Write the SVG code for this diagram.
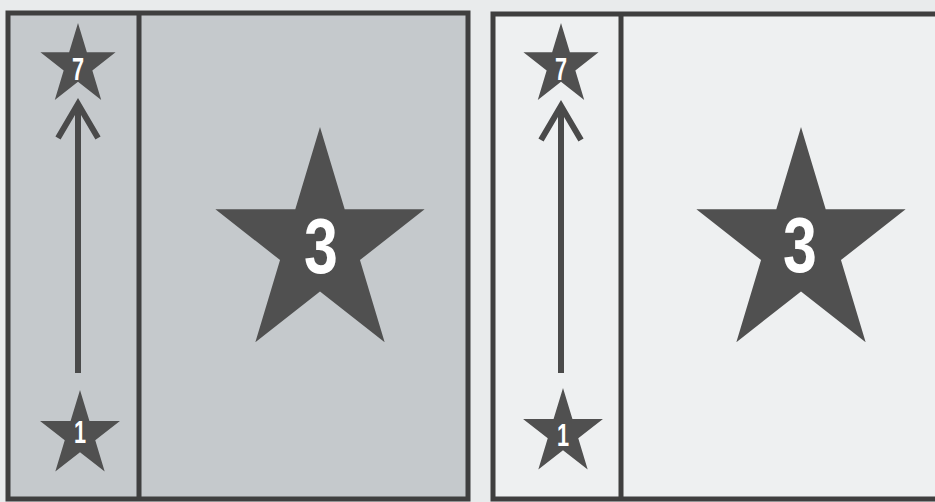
<svg xmlns="http://www.w3.org/2000/svg" width="935" height="502" viewBox="0 0 935 502">
  <style>
    .panel { stroke: #3f3f3f; stroke-width: 5; }
    .divider { stroke: #3f3f3f; stroke-width: 5; }
    .star { fill: #505050; }
    .num { fill: #ffffff; font-family: "Liberation Sans", Arial, sans-serif; text-anchor: middle; }
    .small { font-size: 31px; font-weight: bold; }
    .big { font-size: 78px; font-weight: bold; }
    .arrow { stroke: #4a4a4a; stroke-width: 6; fill: none; }
  </style>
  <defs>
    <polygon id="starShape" points="0,-100 22.45,-30.9 95.11,-30.9 36.33,11.8 58.78,80.9 0,38.2 -58.78,80.9 -36.33,11.8 -95.11,-30.9 -22.45,-30.9"/>
    <marker id="chev" markerUnits="userSpaceOnUse" viewBox="-40 -26 50 52" markerWidth="50" markerHeight="52" refX="0" refY="0" orient="auto">
      <path d="M-34,-20 L0,0 L-34,20" fill="none" stroke="#4a4a4a" stroke-width="6"/>
    </marker>
  </defs>

  <rect x="0" y="0" width="935" height="502" fill="#e9ebec"/>

  <g id="panel-left">
    <rect class="panel" x="8" y="13" width="460" height="486" fill="#c5c9cc"/>
    <line class="divider" x1="139" y1="13" x2="139" y2="499"/>
  </g>
  <g id="panel-right">
    <rect class="panel" x="493" y="14" width="460" height="485" fill="#eef0f1"/>
    <line class="divider" x1="621" y1="14" x2="621" y2="499"/>
  </g>

  <g id="connectors">
    <line class="arrow" x1="78" y1="373" x2="78" y2="104" marker-end="url(#chev)"/>
    <line class="arrow" x1="561" y1="373" x2="561" y2="106" marker-end="url(#chev)"/>
  </g>

  <g id="star-left-7">
    <use href="#starShape" class="star" transform="translate(78,65.5) scale(0.395,0.425)"/>
    <text class="num small" transform="translate(78,80) scale(0.7,1)">7</text>
  </g>
  <g id="star-left-1">
    <use href="#starShape" class="star" transform="translate(80,435) scale(0.42,0.45)"/>
    <text class="num small" transform="translate(80,443) scale(0.7,1)">1</text>
  </g>
  <g id="star-left-3">
    <use href="#starShape" class="star" transform="translate(320,246) scale(1.1,1.19)"/>
    <text class="num big" transform="translate(321,273) scale(0.78,1)">3</text>
  </g>

  <g id="star-right-7">
    <use href="#starShape" class="star" transform="translate(561,65.5) scale(0.395,0.425)"/>
    <text class="num small" transform="translate(561,80) scale(0.7,1)">7</text>
  </g>
  <g id="star-right-1">
    <use href="#starShape" class="star" transform="translate(563,433) scale(0.42,0.45)"/>
    <text class="num small" transform="translate(563,446) scale(0.7,1)">1</text>
  </g>
  <g id="star-right-3">
    <use href="#starShape" class="star" transform="translate(801,246) scale(1.1,1.19)"/>
    <text class="num big" transform="translate(800,272) scale(0.78,1)">3</text>
  </g>
</svg>
